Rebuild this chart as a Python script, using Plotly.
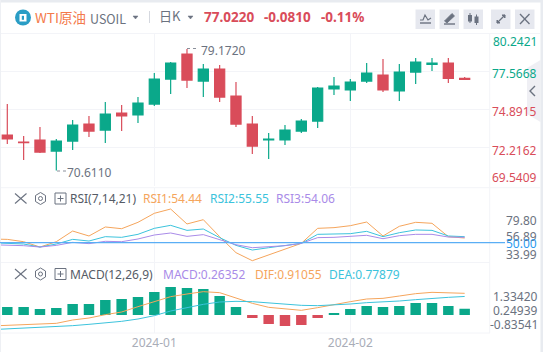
import plotly.graph_objects as go

W, H = 543, 352
FONT = "Noto Sans, Noto Sans CJK SC"
CJK = "Noto Sans CJK SC"
GREEN, RED = "#0aa88a", "#d94c5a"
ORANGE, CYAN, PURPLE, BLUE = "#f5a55c", "#3cc3dc", "#a98be8", "#5aaef5"
GRID = "#f3f4f8"
GREY = "#6b7280"

candle_index = list(range(29))
open_ = [73.11, 72.61, 72.76, 71.98, 72.68, 73.88, 73.46, 74.66, 74.52, 75.29, 77.05, 78.81, 76.91, 77.75, 75.85,
         73.88, 72.76, 72.76, 73.39, 74.09, 76.35, 76.28, 76.91, 77.33, 76.21, 77.54, 78.08, 78.18, 77.10]
high = [75.29, 73.04, 73.67, 72.83, 74.16, 74.45, 75.43, 75.22, 75.78, 77.47, 78.25, 79.172, 78.11, 78.04, 76.84,
        74.45, 73.25, 73.81, 74.23, 76.49, 77.19, 77.05, 78.18, 78.46, 78.11, 78.53, 78.53, 78.53, 77.19]
low = [72.47, 71.35, 71.84, 70.611, 72.05, 72.97, 72.54, 73.39, 73.95, 75.15, 75.99, 76.42, 75.78, 75.43, 73.67,
       71.77, 71.42, 72.40, 73.25, 73.60, 75.92, 75.50, 76.77, 76.13, 75.50, 76.70, 77.61, 76.77, 77.00]
close = [72.83, 72.57, 71.91, 72.68, 73.81, 73.39, 74.59, 74.45, 75.36, 77.05, 78.18, 76.98, 77.75, 75.78, 73.88,
         72.33, 72.83, 73.46, 74.09, 76.42, 76.56, 76.84, 77.47, 76.28, 77.54, 78.25, 78.18, 77.10, 77.022]

line_index = [-1] + candle_index
rsi1 = [54.9, 54.4, 51.3, 44.2, 51.3, 65.5, 58.9, 70.9, 68.6, 77.1, 89.1, 94.8, 74.9, 80.6, 58.0, 36.7, 26.0, 33.6,
        41.1, 49.1, 69.1, 70.0, 72.6, 77.5, 58.9, 71.8, 77.1, 75.8, 58.0, 56.2]
rsi2 = [50.0, 49.1, 48.2, 44.2, 48.2, 54.4, 52.2, 58.0, 57.1, 61.1, 69.1, 73.1, 66.4, 68.2, 56.7, 46.4, 40.2, 43.3,
        46.0, 49.1, 61.1, 61.1, 62.0, 65.1, 58.0, 63.3, 66.9, 66.4, 58.9, 58.0]
rsi3 = [47.3, 46.9, 46.0, 44.2, 46.4, 50.4, 48.7, 51.8, 51.3, 54.9, 60.2, 62.9, 58.4, 60.7, 53.6, 47.3, 43.3, 44.2,
        46.0, 49.1, 56.7, 57.1, 58.0, 59.8, 55.3, 59.3, 61.1, 61.1, 57.5, 57.1]

macd_hist = [0.336, 0.336, 0.252, 0.294, 0.462, 0.462, 0.63, 0.672, 0.756, 0.966, 1.176, 1.134, 1.092, 0.798, 0.336,
             -0.126, -0.378, -0.462, -0.42, -0.126, 0.084, 0.252, 0.378, 0.336, 0.378, 0.504, 0.504, 0.378, 0.2635]
dif = [-0.462, -0.434, -0.406, -0.392, -0.35, -0.21, -0.126, 0.014, 0.126, 0.35, 0.56, 0.77, 0.882, 0.98, 0.938, 0.7,
       0.49, 0.322, 0.252, 0.196, 0.308, 0.448, 0.56, 0.672, 0.7, 0.798, 0.896, 0.952, 0.938, 0.91055]
dea = [-0.616, -0.588, -0.56, -0.518, -0.49, -0.448, -0.392, -0.336, -0.266, -0.168, -0.028, 0.168, 0.322, 0.448,
       0.546, 0.574, 0.56, 0.504, 0.462, 0.406, 0.392, 0.42, 0.462, 0.518, 0.546, 0.588, 0.644, 0.7, 0.742, 0.77879]

price_ticks = [80.2421, 77.5668, 74.8915, 72.2162, 69.5409]
price_tick_labels = ["80.2421", "77.5668", "74.8915", "72.2162", "69.5409"]
rsi_ticks = [79.80, 56.89, 50.00, 33.99]
rsi_tick_labels = ["79.80", "56.89", "50.00", "33.99"]
macd_tick_labels = ["1.33420", "0.24939", "-0.83541"]
month_ticks = [9, 21]
month_labels = ["2024-01", "2024-02"]


def fx(p):
    return p / W


def fy(p):
    return 1 - p / H


fig = go.Figure()
fig.add_trace(go.Candlestick(
    x=candle_index, open=open_, high=high, low=low, close=close, xaxis="x", yaxis="y",
    increasing=dict(line=dict(color=GREEN, width=1.2), fillcolor=GREEN),
    decreasing=dict(line=dict(color=RED, width=1.2), fillcolor=RED),
    whiskerwidth=0, showlegend=False))
for vals, col in [(rsi1, ORANGE), (rsi2, CYAN), (rsi3, PURPLE)]:
    fig.add_trace(go.Scatter(x=line_index, y=vals, mode="lines", line=dict(color=col, width=1),
                             xaxis="x", yaxis="y2", showlegend=False))
fig.add_trace(go.Bar(x=candle_index, y=macd_hist, width=0.64, xaxis="x", yaxis="y3", showlegend=False,
                     marker=dict(color=[GREEN if v >= 0 else RED for v in macd_hist], line=dict(width=0))))
for vals, col in [(dif, ORANGE), (dea, CYAN)]:
    fig.add_trace(go.Scatter(x=line_index, y=vals, mode="lines", line=dict(color=col, width=1),
                             xaxis="x", yaxis="y3", showlegend=False))

ann = []


def text(x, y, s, color=GREY, size=12, anchor="left", bold=False, family=FONT):
    ann.append(dict(xref="paper", yref="paper", x=fx(x), y=fy(y), text=f"<b>{s}</b>" if bold else s,
                    showarrow=False, xanchor=anchor, yanchor="middle", align=anchor,
                    font=dict(family=family, size=size, color=color), borderpad=0, borderwidth=0))


def axis_label(yref, v, s, color, yshift, size=12):
    ann.append(dict(xref="paper", yref=yref, x=fx(538), y=v, text=s, showarrow=False, xanchor="right",
                    yanchor="middle", yshift=yshift, borderpad=0,
                    font=dict(family=FONT, size=size, color=color)))


# header
text(35, 16.5, "WTI原油", "#f47a4b", 13.5, family=CJK)
text(90, 18, "USOIL", GREY, 12.5, family=CJK)
text(158.5, 16, "日K", GREY, 13, family=CJK)
text(204, 16.5, "77.0220", RED, 13.5, bold=True)
text(264, 16.5, "-0.0810", RED, 13.5, bold=True)
text(321, 16.5, "-0.11%", RED, 13.5, bold=True)

# price axis labels
for v, s, shift in zip(price_ticks, price_tick_labels, [-8, -2, -2, -3, 8]):
    axis_label("y", v, s, GREEN if v > 77 else RED, shift)
for v, s, shift, c in zip(rsi_ticks, rsi_tick_labels, [0, 1, -1, 0], [GREY, GREY, "#2d9bf0", GREY]):
    axis_label("y2", v, s, c, shift)
text(538, 296.7, macd_tick_labels[0], GREY, 12, "right")
text(538, 310.7, macd_tick_labels[1], GREY, 12, "right")
text(538, 324.3, macd_tick_labels[2], GREY, 12, "right")

# extreme labels
ann.append(dict(xref="x", yref="y", x=11, y=79.172, text="79.1720", showarrow=False, xanchor="left", xshift=12,
                yshift=-2, font=dict(family=FONT, size=12, color=GREY)))
ann.append(dict(xref="x", yref="y", x=3, y=70.611, text="70.6110", showarrow=False, xanchor="left", xshift=9,
                yshift=-2, font=dict(family=FONT, size=12, color=GREY)))

# indicator headers
text(70, 198.5, "RSI(7,14,21)", "#555b66", 12)
text(143, 198.5, "RSI1:54.44", ORANGE, 12)
text(210, 198.5, "RSI2:55.55", CYAN, 12)
text(276, 198.5, "RSI3:54.06", PURPLE, 12)
text(70, 274.5, "MACD(12,26,9)", "#555b66", 12)
text(163, 274.5, "MACD:0.26352", PURPLE, 12)
text(255, 274.5, "DIF:0.91055", ORANGE, 12)
text(329, 274.5, "DEA:0.77879", CYAN, 12)

shapes = []


def pline(x0, y0, x1, y1, color=GREY, width=1.2, dash="solid"):
    shapes.append(dict(type="line", xref="paper", yref="paper", x0=fx(x0), y0=fy(y0), x1=fx(x1), y1=fy(y1),
                       line=dict(color=color, width=width, dash=dash), layer="above"))


def ppath(points, fill=None, color=GREY, width=1.2, close_it=True):
    d = "M " + " L ".join(f"{fx(x):.5f},{fy(y):.5f}" for x, y in points) + (" Z" if close_it else "")
    shapes.append(dict(type="path", xref="paper", yref="paper", path=d, fillcolor=fill or "rgba(0,0,0,0)",
                       line=dict(color=color, width=width), layer="above"))


def prect(x0, y0, x1, y1, fill, line=None, width=0):
    shapes.append(dict(type="rect", xref="paper", yref="paper", x0=fx(x0), y0=fy(y0), x1=fx(x1), y1=fy(y1),
                       fillcolor=fill, line=dict(color=line or fill, width=width), layer="above"))


# frame
prect(0, 0, 543, 2.5, "#e8ebf0")
prect(540.5, 0, 543, 352, "#e8ebf0")
prect(0, 0, 1, 352, "#eef0f4")
for y in (33.5, 187.7, 262.5, 333):
    pline(1, y, 490 if y != 33.5 else 540, y, GRID, 1)
pline(489.7, 33.5, 489.7, 333, GRID, 1)
pline(490, 187.7, 540, 187.7, GRID, 1)

# logo
shapes.append(dict(type="circle", xref="paper", yref="paper", x0=fx(15), y0=fy(25.5), x1=fx(31), y1=fy(9.5),
                   fillcolor="#2a9dc5", line=dict(width=0), layer="above"))
prect(19.5, 14, 26.5, 21.5, "white")
prect(21.8, 15.8, 24, 19.8, "#2a9dc5")

# header separators and dropdown arrows
pline(149.5, 11, 149.5, 23, "#d5d8df", 1)
ppath([(133, 16), (138, 16), (135.5, 19)], fill=GREY, color=GREY, width=0.5)
ppath([(188, 16), (193, 16), (190.5, 19)], fill=GREY, color=GREY, width=0.5)

# header buttons
for x0 in (415.5, 439.5, 463.5, 491, 515):
    prect(x0, 9.5, x0 + 19.5, 29, "#e6e8ef")
ppath([(420, 20), (423, 20), (425, 15), (428, 20), (431, 18)], color=GREY, width=1.2, close_it=False)
pline(420, 23, 431, 23, GREY, 1.4)
ppath([(444.5, 21), (452, 13.5), (454.5, 16), (447, 23)], fill=GREY, color=GREY, width=0.8)
pline(444, 24, 455, 24, GREY, 1.4)
prect(468, 15, 472, 21.5, GREY)
prect(474.5, 16.5, 478.5, 23, GREY)
pline(470, 13, 470, 23, GREY, 1)
pline(476.5, 14.5, 476.5, 25, GREY, 1)
pline(497, 23, 505, 15, GREY, 1.2)
ppath([(502, 15), (505, 15), (505, 18)], fill=GREY, color=GREY, width=1)
ppath([(497, 20), (497, 23), (500, 23)], fill=GREY, color=GREY, width=1)
pline(520, 14, 529.5, 24, GREY, 1.3)
pline(529.5, 14, 520, 24, GREY, 1.3)

# collapse tab
ppath([(540.5, 60), (527, 68), (527, 114), (540.5, 122)], fill="rgba(233,234,240,0.75)",
      color="rgba(0,0,0,0)", width=0)
ppath([(535, 86), (530, 91), (535, 96)], color=GREY, width=1.4, close_it=False)

# indicator panel icons
for yc in (198.5, 274):
    pline(15, yc - 5, 26.5, yc + 5, GREY, 1.1)
    pline(26.5, yc - 5, 15, yc + 5, GREY, 1.1)
    ppath([(40.5, yc - 6), (45.5, yc - 3), (45.5, yc + 3), (40.5, yc + 6), (35.5, yc + 3), (35.5, yc - 3)],
          color=GREY, width=1)
    shapes.append(dict(type="circle", xref="paper", yref="paper", x0=fx(38.5), y0=fy(yc + 2), x1=fx(42.5),
                       y1=fy(yc - 2), line=dict(color=GREY, width=1), layer="above"))
    prect(55, yc - 5.5, 66, yc + 5.5, "rgba(0,0,0,0)", GREY, 1)
    pline(57.5, yc, 63.5, yc, GREY, 1)
    pline(60.5, yc - 3, 60.5, yc + 3, GREY, 1)

# RSI 50 line
shapes.append(dict(type="line", xref="paper", yref="y2", x0=0, x1=fx(505), y0=rsi_ticks[2], y1=rsi_ticks[2],
                   line=dict(color=BLUE, width=1.2), layer="above"))
# extreme leaders
pline(187, 48.5, 197, 48.5, "#8a8f9a", 1, "dot")
pline(57, 171, 66, 171, "#8a8f9a", 1, "dot")

fig.update_layout(
    width=W, height=H, autosize=False,
    margin=dict(l=0, r=0, t=0, b=0), paper_bgcolor="white", plot_bgcolor="white",
    showlegend=False, boxgap=0.38, boxgroupgap=0, dragmode=False, hovermode=False,
    annotations=ann, shapes=shapes,
    xaxis=dict(domain=[0, fx(489.5)], range=[-0.447, 29.52], anchor="y3", tickmode="array", tickvals=month_ticks,
               ticktext=month_labels, showgrid=True, gridcolor=GRID, gridwidth=1, zeroline=False, showline=False,
               ticks="", rangeslider=dict(visible=False), ticklabelstandoff=1,
               tickfont=dict(family=FONT, size=12, color="#a9adb8")),
    yaxis=dict(domain=[fy(185.7), fy(33.7)], range=[69.5409, 80.2421], anchor="x", tickmode="array",
               tickvals=price_ticks, showticklabels=False, showgrid=True, gridcolor=GRID, zeroline=False, ticks=""),
    yaxis2=dict(domain=[fy(262.5), fy(187.7)], range=[23.6, 123.2], anchor="x", showticklabels=False,
                showgrid=False, zeroline=False, ticks=""),
    yaxis3=dict(domain=[fy(333), fy(262.5)], range=[-0.756, 2.205], anchor="x", showticklabels=False,
                showgrid=False, zeroline=False, ticks=""),
)
fig.write_html("out.html", config=dict(displayModeBar=False),
               post_script="document.body.style.margin='0';document.body.style.overflow='hidden';")
